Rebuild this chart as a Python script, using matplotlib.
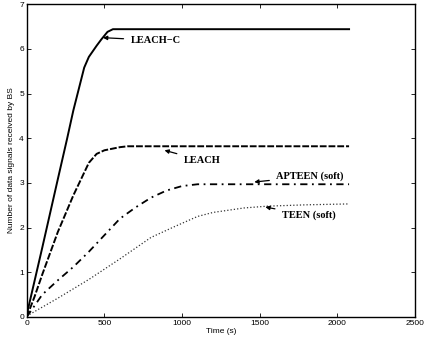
import matplotlib
matplotlib.use("Agg")
import matplotlib.pyplot as plt

# Values.
leach_c_t = [0, 100, 200, 260, 300, 370, 400, 450, 480, 520, 555, 2075]
leach_c_y = [0.05, 1.55, 3.08, 3.99, 4.62, 5.58, 5.82, 6.07, 6.21, 6.38, 6.44, 6.44]

leach_t = [0, 50, 100, 200, 300, 400, 450, 500, 600, 650, 2075]
leach_y = [0.0, 0.45, 0.95, 1.9, 2.72, 3.45, 3.65, 3.73, 3.80, 3.82, 3.82]

apteen_t = [0, 100, 200, 300, 400, 500, 600, 700, 800, 900, 1000, 1100, 2075]
apteen_y = [0.0, 0.5, 0.82, 1.12, 1.46, 1.83, 2.2, 2.45, 2.67, 2.83, 2.93, 2.97, 2.97]

teen_t = [0, 100, 200, 400, 600, 800, 950, 1100, 1200, 1400, 1550, 1800, 2075]
teen_y = [0.02, 0.22, 0.42, 0.84, 1.3, 1.78, 2.02, 2.25, 2.34, 2.44, 2.48, 2.51, 2.53]

# label, arrow tip, text position
notes = [
    ("LEACH\u2212C", (491, 6.25), (668, 6.19)),
    ("LEACH", (887, 3.73), (1010, 3.50)),
    ("APTEEN (soft)", (1465, 3.02), (1606, 3.15)),
    ("TEEN (soft)", (1536, 2.46), (1642, 2.28)),
]

plt.rcParams["font.family"] = ["Liberation Sans", "DejaVu Sans"]

fig = plt.figure(figsize=(4.24, 3.47), dpi=100)
ax = fig.add_axes([0.063, 0.0865, 0.916, 0.9015])

ax.plot(leach_c_t, leach_c_y, "-", color="black", lw=1.4)
ax.plot(leach_t, leach_y, color="black", lw=1.4, dashes=(3.5, 1))
ax.plot(apteen_t, apteen_y, color="black", lw=1.3, dashes=(4, 2.5, 1, 2.5))
ax.plot(teen_t, teen_y, ":", color="#333333", lw=0.9)

for label, tip, pos in notes:
    ax.annotate(label, xy=tip, xytext=pos, va="center", ha="left",
                fontfamily="Liberation Serif", fontweight="bold", fontsize=7.5,
                arrowprops=dict(arrowstyle="-|>", color="black", lw=0.9,
                                mutation_scale=6, shrinkA=3, shrinkB=0))

ax.set_xlim(0, 2500)
ax.set_ylim(0, 7)
ax.set_xticks([0, 500, 1000, 1500, 2000, 2500])
ax.set_yticks(range(8))
ax.tick_params(direction="in", top=True, right=True, labelsize=6, length=3, width=0.6, pad=2)
for s in ax.spines.values():
    s.set_linewidth(1.0)

ax.set_xlabel("Time (s)", fontsize=6, labelpad=1)
ax.set_ylabel("Number of data signals received by BS", fontsize=6, labelpad=3)

fig.savefig("out.png", dpi=100)
